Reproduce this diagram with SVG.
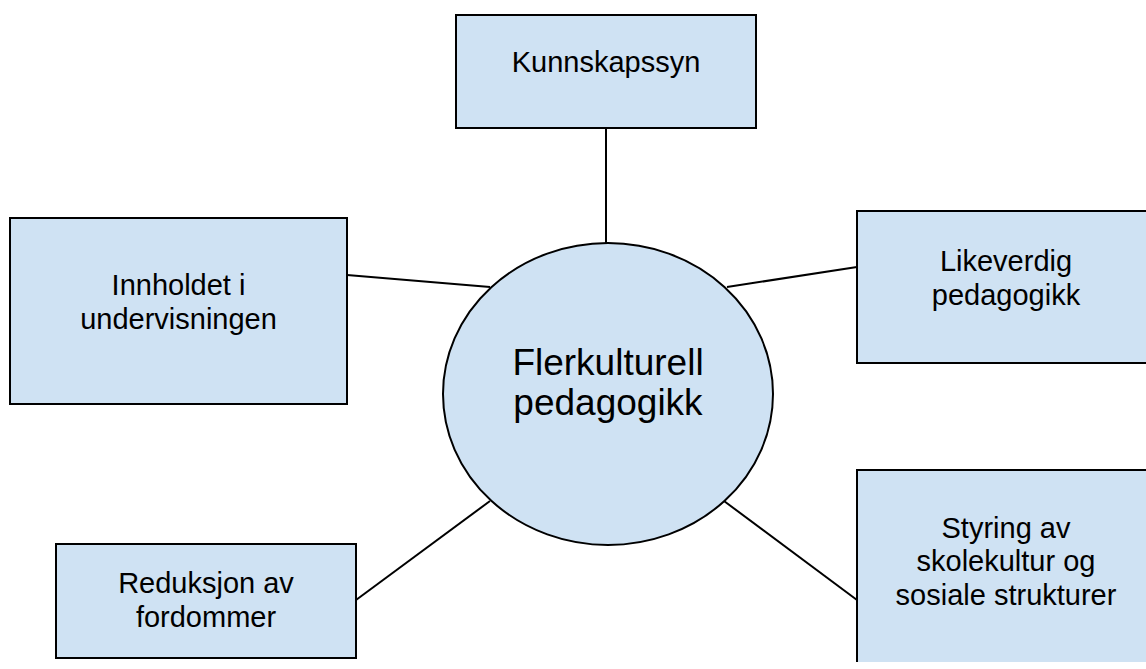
<svg xmlns="http://www.w3.org/2000/svg" width="1146" height="669" viewBox="0 0 1146 669">
<style>
.box{fill:#cfe2f3;stroke:#000;stroke-width:2}
.fill{fill:#cfe2f3;stroke:none}
.edge{fill:none;stroke:#000;stroke-width:2}
.conn line{stroke:#000;stroke-width:2}
text{font-family:"Liberation Sans",Arial,sans-serif;fill:#000;text-anchor:middle}
.t{font-size:29px}
.c{font-size:37px}
</style>
<rect width="1146" height="669" fill="#fff"/>
<g id="connectors" class="conn">
<line x1="606" y1="128" x2="606" y2="243"/>
<line x1="347" y1="275" x2="490" y2="287"/>
<line x1="727" y1="287" x2="857" y2="267"/>
<line x1="356" y1="600" x2="490" y2="501"/>
<line x1="724" y1="501" x2="857" y2="600"/>
</g>
<g id="center">
<ellipse class="box" cx="608" cy="394" rx="165" ry="151"/>
<text class="c" x="608" y="375">Flerkulturell</text>
<text class="c" x="608" y="415">pedagogikk</text>
</g>
<g id="kunnskapssyn">
<rect class="box" x="456" y="15" width="300" height="113"/>
<text class="t" x="606" y="72">Kunnskapssyn</text>
</g>
<g id="innholdet">
<rect class="box" x="10" y="218" width="337" height="186"/>
<text class="t" x="178.5" y="295">Innholdet i</text>
<text class="t" x="178.5" y="329">undervisningen</text>
</g>
<g id="likeverdig">
<rect class="fill" x="857" y="211" width="289" height="152"/>
<path class="edge" d="M1146 211H857V363H1146"/>
<text class="t" x="1006" y="271">Likeverdig</text>
<text class="t" x="1006" y="305">pedagogikk</text>
</g>
<g id="reduksjon">
<rect class="box" x="56" y="544" width="300" height="114"/>
<text class="t" x="206" y="593">Reduksjon av</text>
<text class="t" x="206" y="627">fordommer</text>
</g>
<g id="styring">
<rect class="fill" x="857" y="470" width="289" height="192"/>
<path class="edge" d="M1146 470H857V662"/>
<text class="t" x="1006" y="538">Styring av</text>
<text class="t" x="1006" y="571">skolekultur og</text>
<text class="t" x="1006" y="605">sosiale strukturer</text>
</g>
</svg>
